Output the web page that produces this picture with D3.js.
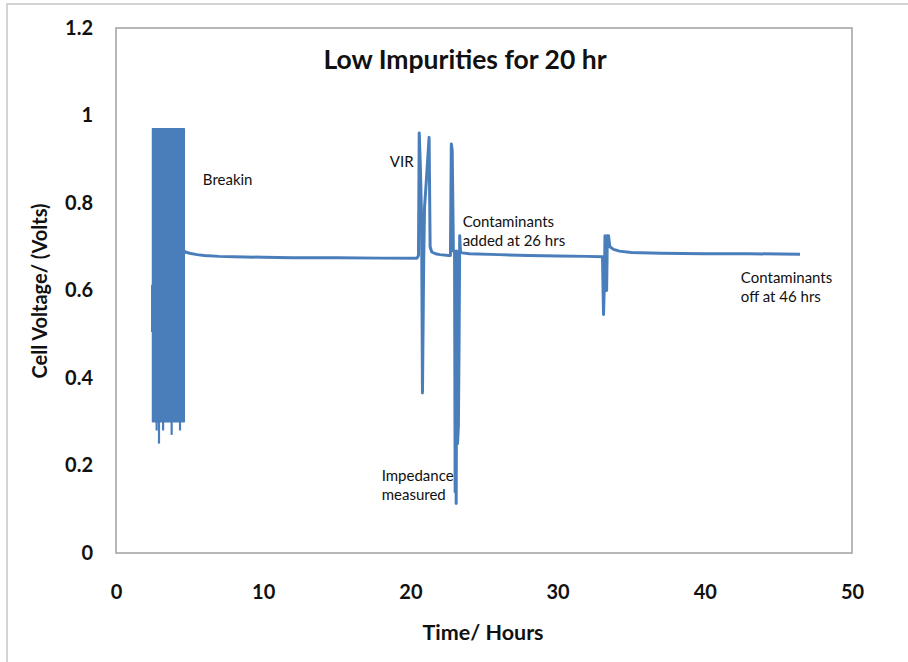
<!DOCTYPE html>
<html><head><meta charset="utf-8">
<script src="https://cdn.jsdelivr.net/npm/d3@7/dist/d3.min.js"></script>
<style>html,body{margin:0;padding:0;background:#fff;overflow:hidden}svg{display:block}</style>
</head><body><svg id="c" width="908" height="662"></svg>
<script>
// ---- data ----
const title = "Low Impurities for 20 hr";
const xTicks = [0, 10, 20, 30, 40, 50];
const yTicks = [0, 0.2, 0.4, 0.6, 0.8, 1, 1.2];
const yTickLabels = ["0", "0.2", "0.4", "0.6", "0.8", "1", "1.2"];

// continuous cell-voltage trace (hours, volts)
const traceHours = [2.48, 2.48, 4.64, 4.70, 5.0, 5.5, 6, 7, 8, 10, 12, 15, 18, 20.45,
  20.55, 20.60, 20.68, 20.76, 20.82, 20.90, 20.96, 21.10, 21.27, 21.34, 21.45, 21.7, 22.0, 22.6,
  22.72, 22.78, 22.84, 22.92, 23.00, 23.04, 23.07, 23.11, 23.16, 23.20, 23.26, 23.30, 23.35, 23.40, 23.50,
  24, 26, 28, 30, 32, 33.05,
  33.12, 33.18, 33.22, 33.28, 33.33, 33.38, 33.46, 33.55, 33.8, 34.2, 35, 37, 40, 43, 46.47];
const traceVolts = [0.505, 0.61, 0.69, 0.688, 0.685, 0.682, 0.68, 0.678, 0.677, 0.676, 0.675, 0.675, 0.674, 0.674,
  0.68, 0.96, 0.88, 0.76, 0.366, 0.66, 0.79, 0.86, 0.95, 0.70, 0.688, 0.684, 0.682, 0.68,
  0.68, 0.935, 0.92, 0.69, 0.688, 0.14, 0.69, 0.113, 0.69, 0.25, 0.29, 0.45, 0.725, 0.69, 0.686,
  0.684, 0.682, 0.68, 0.679, 0.678, 0.677,
  0.545, 0.62, 0.725, 0.60, 0.60, 0.725, 0.725, 0.70, 0.694, 0.69, 0.687, 0.685, 0.684, 0.684, 0.683];

// break-in cycling: dense oscillation shown as its envelope
const breakinHours = [2.48, 4.64];
const breakinHigh = [0.97, 0.97];
const breakinLow = [0.30, 0.30];
const breakinDipHours = [2.76, 2.92, 3.20, 3.78, 4.35];
const breakinDipVolts = [0.28, 0.25, 0.28, 0.27, 0.28];

// annotations
const noteLines = [["Breakin"], ["VIR"], ["Contaminants", "added at 26 hrs"], ["Impedance", "measured"], ["Contaminants", "off at 46 hrs"]];
const noteHours = [5.9, 18.6, 23.55, 18.05, 42.45];
const noteVolts = [0.842, 0.882, 0.745, 0.165, 0.618];

// ---- drawing ----
const svg = d3.select("#c");
const L = 116, R = 852, T = 28, B = 553;
const x = d3.scaleLinear().domain([0, 50]).range([L, R]);
const y = d3.scaleLinear().domain([0, 1.2]).range([B, T]);
const blue = "#4a7ebb";
const font = "Lato, 'Open Sans', sans-serif";

// outer frame
svg.append("rect").attr("x", 7).attr("y", 4).attr("width", 960).attr("height", 700)
  .attr("fill", "none").attr("stroke", "#d4d4d4").attr("stroke-width", 2);

// plot area border
svg.append("rect").attr("x", L).attr("y", T).attr("width", R - L).attr("height", B - T)
  .attr("fill", "#fff").attr("stroke", "#a0a0a0").attr("stroke-width", 1.5);

// axes (labels only)
const ya = svg.append("g").attr("transform", `translate(${L - 1},0)`)
  .call(d3.axisLeft(y).tickValues(yTicks).tickSize(0).tickPadding(22)
    .tickFormat((d, i) => yTickLabels[i]));
ya.select(".domain").remove();
ya.selectAll("text").attr("font-family", font).attr("font-weight", "bold")
  .attr("font-size", 20).attr("fill", "#111");

const xa = svg.append("g").attr("transform", `translate(0,${B})`)
  .call(d3.axisBottom(x).tickValues(xTicks).tickSize(0).tickPadding(32).tickFormat(d3.format("d")));
xa.select(".domain").remove();
xa.selectAll("text").attr("font-family", font).attr("font-weight", "bold")
  .attr("font-size", 20).attr("fill", "#111");

// axis titles
svg.append("text").attr("transform", "translate(47,291) rotate(-90)")
  .attr("text-anchor", "middle").attr("font-family", font).attr("font-weight", "bold")
  .attr("font-size", 20).attr("fill", "#111").text("Cell Voltage/ (Volts)");
svg.append("text").attr("x", 483).attr("y", 640)
  .attr("text-anchor", "middle").attr("font-family", font).attr("font-weight", "bold")
  .attr("font-size", 21.5).attr("fill", "#111").text("Time/ Hours");

// chart title
svg.append("text").attr("x", 465).attr("y", 69)
  .attr("text-anchor", "middle").attr("font-family", font).attr("font-weight", "bold")
  .attr("font-size", 26.5).attr("fill", "#111").text(title);

// trace
const line = d3.line().x(i => x(traceHours[i])).y(i => y(traceVolts[i]));
svg.append("path").attr("d", line(d3.range(traceHours.length)))
  .attr("fill", "none").attr("stroke", blue).attr("stroke-width", 3)
  .attr("stroke-linejoin", "round");

// break-in envelope
const area = d3.area().x(i => x(breakinHours[i])).y0(i => y(breakinLow[i])).y1(i => y(breakinHigh[i]));
svg.append("path").attr("d", area(d3.range(breakinHours.length)))
  .attr("fill", blue).attr("stroke", blue).attr("stroke-width", 1.5).attr("stroke-linejoin", "round");
svg.selectAll(".dip").data(d3.range(breakinDipHours.length)).enter().append("line")
  .attr("x1", i => x(breakinDipHours[i])).attr("x2", i => x(breakinDipHours[i]))
  .attr("y1", y(breakinLow[0])).attr("y2", i => y(breakinDipVolts[i]))
  .attr("stroke", blue).attr("stroke-width", 2.2);

// annotations
noteLines.forEach((lines, j) => {
  const t = svg.append("text").attr("font-family", font).attr("font-size", 15)
    .attr("fill", "#111").attr("x", x(noteHours[j])).attr("y", y(noteVolts[j]));
  lines.forEach((s, k) => t.append("tspan").attr("x", x(noteHours[j])).attr("dy", k ? 19 : 0).text(s));
});
</script>
</body></html>
